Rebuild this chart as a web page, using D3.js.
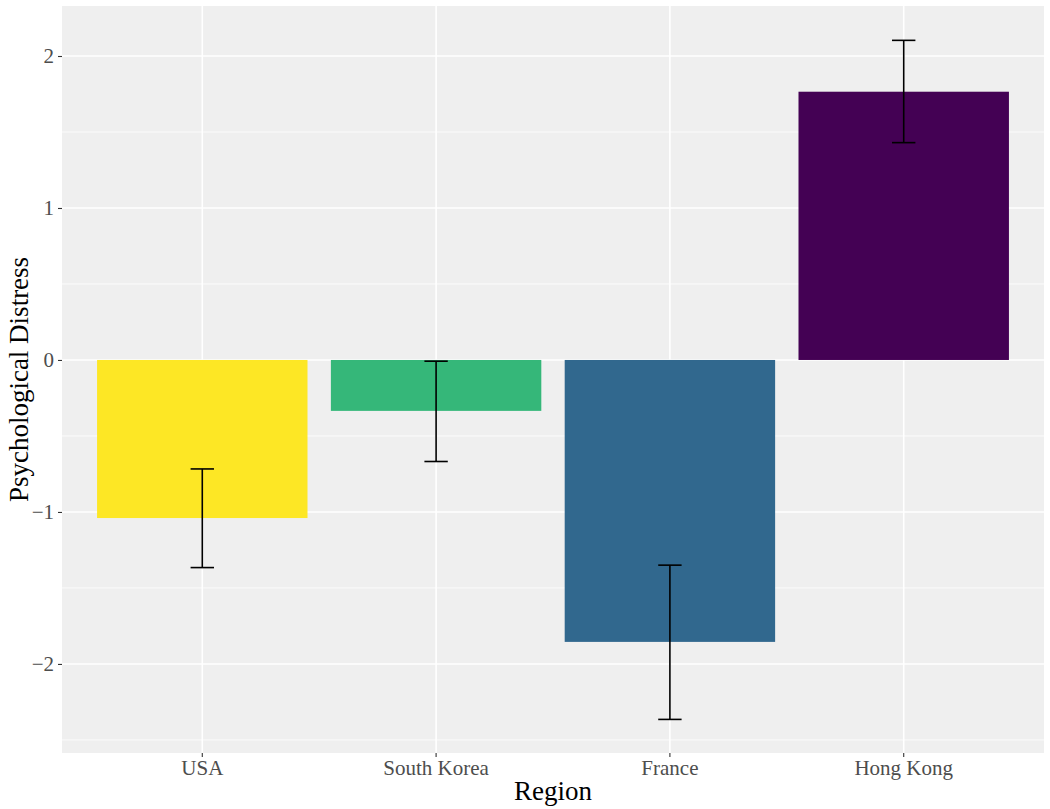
<!DOCTYPE html>
<html>
<head>
<meta charset="utf-8">
<script src="https://cdn.jsdelivr.net/npm/d3@7"></script>
<style>
  html, body { margin: 0; padding: 0; background: #ffffff; }
  svg { display: block; }
</style>
</head>
<body>
<div id="chart"></div>
<script>
const categories = ["USA", "South Korea", "France", "Hong Kong"];
const means = [-1.04, -0.335, -1.855, 1.765];
const errLow = [-1.366, -0.668, -2.365, 1.43];
const errHigh = [-0.717, -0.008, -1.35, 2.103];
const barColors = ["#FDE725", "#35B779", "#31688E", "#440154"];
const yTicks = [-2, -1, 0, 1, 2];
const yMinor = [-2.5, -1.5, -0.5, 0.5, 1.5];
const xTitle = "Region";
const yTitle = "Psychological Distress";

const W = 1050, H = 809;
const panel = { left: 62, top: 6, right: 1044, bottom: 753 };

const svg = d3.select("#chart").append("svg")
  .attr("width", W).attr("height", H)
  .style("font-family", "'Liberation Serif', 'Times New Roman', serif");

const x = d3.scaleBand()
  .domain(categories)
  .range([panel.left, panel.right])
  .paddingInner(0.1)
  .paddingOuter(0.15);

const y = d3.scaleLinear()
  .domain([-2.586, 2.329])
  .range([panel.bottom, panel.top]);

// panel background
svg.append("rect")
  .attr("x", panel.left).attr("y", panel.top)
  .attr("width", panel.right - panel.left)
  .attr("height", panel.bottom - panel.top)
  .attr("fill", "#EFEFEF");

// minor grid
svg.append("g").selectAll("line").data(yMinor).join("line")
  .attr("x1", panel.left).attr("x2", panel.right)
  .attr("y1", d => y(d)).attr("y2", d => y(d))
  .attr("stroke", "#ffffff").attr("stroke-width", 0.8);

// major grid
svg.append("g").selectAll("line").data(yTicks).join("line")
  .attr("x1", panel.left).attr("x2", panel.right)
  .attr("y1", d => y(d)).attr("y2", d => y(d))
  .attr("stroke", "#ffffff").attr("stroke-width", 1.6);

svg.append("g").selectAll("line").data(categories).join("line")
  .attr("x1", d => x(d) + x.bandwidth() / 2).attr("x2", d => x(d) + x.bandwidth() / 2)
  .attr("y1", panel.top).attr("y2", panel.bottom)
  .attr("stroke", "#ffffff").attr("stroke-width", 1.6);

// bars
svg.append("g").selectAll("rect").data(categories).join("rect")
  .attr("x", d => x(d))
  .attr("width", x.bandwidth())
  .attr("y", (d, i) => Math.min(y(means[i]), y(0)))
  .attr("height", (d, i) => Math.abs(y(means[i]) - y(0)))
  .attr("fill", (d, i) => barColors[i]);

// error bars
const capW = x.step() * 0.1;
const eg = svg.append("g").attr("stroke", "#000").attr("stroke-width", 1.6).attr("fill", "none");
categories.forEach((c, i) => {
  const cx = x(c) + x.bandwidth() / 2;
  eg.append("line").attr("x1", cx).attr("x2", cx).attr("y1", y(errLow[i])).attr("y2", y(errHigh[i]));
  eg.append("line").attr("x1", cx - capW / 2).attr("x2", cx + capW / 2).attr("y1", y(errLow[i])).attr("y2", y(errLow[i]));
  eg.append("line").attr("x1", cx - capW / 2).attr("x2", cx + capW / 2).attr("y1", y(errHigh[i])).attr("y2", y(errHigh[i]));
});

// y axis
const yAxis = svg.append("g")
  .attr("transform", `translate(${panel.left},0)`)
  .call(d3.axisLeft(y).tickValues(yTicks).tickSize(4).tickPadding(4)
    .tickFormat(d => d < 0 ? "\u2212" + Math.abs(d) : String(d)));
yAxis.select(".domain").remove();
yAxis.selectAll(".tick line").attr("stroke", "#333333").attr("stroke-width", 1.1);
yAxis.selectAll(".tick text")
  .attr("fill", "#4D4D4D")
  .style("font-size", "21px")
  .style("font-family", "'Liberation Serif', 'Times New Roman', serif");

// x axis
const xAxis = svg.append("g")
  .attr("transform", `translate(0,${panel.bottom})`)
  .call(d3.axisBottom(x).tickSize(4).tickPadding(3));
xAxis.select(".domain").remove();
xAxis.selectAll(".tick line").attr("stroke", "#333333").attr("stroke-width", 1.1);
xAxis.selectAll(".tick text")
  .attr("fill", "#4D4D4D")
  .style("font-size", "21px")
  .style("font-family", "'Liberation Serif', 'Times New Roman', serif");

// titles
svg.append("text")
  .attr("x", (panel.left + panel.right) / 2)
  .attr("y", 800)
  .attr("text-anchor", "middle")
  .attr("fill", "#000")
  .style("font-size", "27px")
  .text(xTitle);

svg.append("text")
  .attr("transform", `translate(28,${(panel.top + panel.bottom) / 2}) rotate(-90)`)
  .attr("text-anchor", "middle")
  .attr("fill", "#000")
  .style("font-size", "27px")
  .text(yTitle);
</script>
</body>
</html>
